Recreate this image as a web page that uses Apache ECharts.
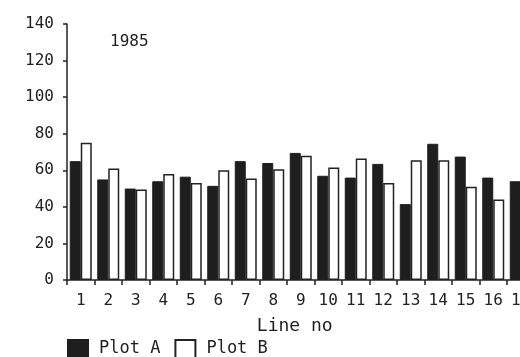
<!DOCTYPE html>
<html>
<head>
<meta charset="utf-8">
<script src="https://cdn.jsdelivr.net/npm/echarts@6/dist/echarts.min.js"></script>
<style>html,body{margin:0;padding:0;background:#fff}#c{width:520px;height:357px}</style>
</head>
<body>
<div id="c"></div>
<script>
const categories = ['1','2','3','4','5','6','7','8','9','10','11','12','13','14','15','16','17'];
const plotA = [65, 55, 50, 54, 56.5, 51.5, 65, 64, 69.5, 57, 56, 63.5, 41.5, 74.5, 67.5, 56, 54];
const plotB = [75, 61, 49.5, 58, 53, 60, 55.5, 60.5, 68, 61.5, 66.5, 53, 65.5, 65.5, 51, 44, null];
const yTicks = [0, 20, 40, 60, 80, 100, 120, 140];

const FONT = 'DejaVu Sans Mono';
const INK = '#222';
const chart = echarts.init(document.getElementById('c'), null, {renderer: 'canvas'});
chart.setOption({
  animation: false,
  backgroundColor: '#fff',
  title: {
    text: '1985', left: 105, top: 29,
    textStyle: {fontFamily: FONT, fontSize: 16, fontWeight: 'normal', color: INK}
  },
  legend: {
    left: 62, top: 334, itemWidth: 20, itemHeight: 18, itemGap: 14,
    icon: 'rect',
    textStyle: {fontFamily: FONT, fontSize: 17, color: INK, padding: [0, 0, 0, 6]},
    data: ['Plot A', 'Plot B']
  },
  grid: {left: 67, top: 24, bottom: 77, width: 467.5, containLabel: false, outerBoundsMode: 'none'},
  xAxis: {
    type: 'category', data: categories,
    name: 'Line no', nameLocation: 'middle', nameGap: 37,
    nameTextStyle: {fontFamily: FONT, fontSize: 18, color: INK, padding: [0, 12, 0, 0]},
    axisLine: {lineStyle: {color: INK, width: 1.5}},
    axisTick: {show: true, alignWithLabel: false, length: 5, lineStyle: {color: INK, width: 1.5}},
    axisLabel: {fontFamily: FONT, fontSize: 16, color: INK, margin: 13, interval: 0}
  },
  yAxis: {
    type: 'value', min: yTicks[0], max: yTicks[yTicks.length - 1], interval: 20,
    splitLine: {show: false},
    axisLine: {show: true, lineStyle: {color: INK, width: 1.5}},
    axisTick: {show: true, length: 4, lineStyle: {color: INK, width: 1.5}},
    axisLabel: {fontFamily: FONT, fontSize: 16, color: INK, margin: 13}
  },
  series: [
    {
      name: 'Plot A', type: 'bar', data: plotA, barWidth: 11, barGap: '0%',
      itemStyle: {color: '#1e1e1e', borderColor: '#1e1e1e', borderWidth: 1}
    },
    {
      name: 'Plot B', type: 'bar', data: plotB, barWidth: 11, barGap: '0%',
      itemStyle: {color: '#fff', borderColor: INK, borderWidth: 1.5}
    }
  ]
});
</script>
</body>
</html>
